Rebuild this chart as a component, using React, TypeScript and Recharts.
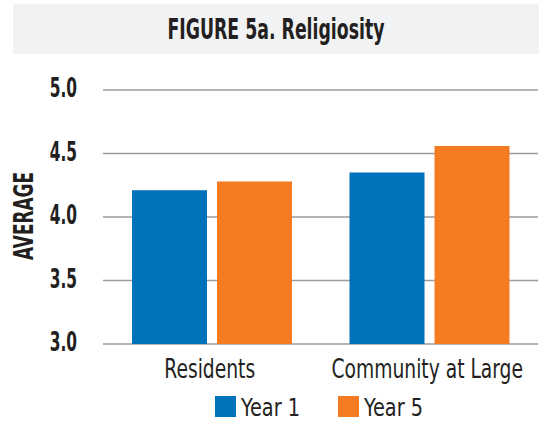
import React from "react";
import { BarChart, Bar, XAxis, YAxis, CartesianGrid, Legend } from "recharts";

const categories = ["Residents", "Community at Large"];
const year1 = [4.21, 4.35];
const year5 = [4.28, 4.56];
const seriesNames = ["Year 1", "Year 5"];
const yTicks = [3.0, 3.5, 4.0, 4.5, 5.0];
const title = "FIGURE 5a. Religiosity";
const yLabel = "AVERAGE";

const data = categories.map((c, i) => ({ name: c, y1: year1[i], y5: year5[i] }));

const BLUE = "#0071BB";
const ORANGE = "#F37B21";
const TEXT = "#231F20";
const FONT = "'Liberation Sans Narrow', 'Arial Narrow', 'DejaVu Sans Condensed', sans-serif";
const SQUEEZE = 0.8;

const YTick = (props: any) => {
  const { y, payload } = props;
  return (
    <text
      transform={`translate(77 ${y + 7}) scale(0.66 1)`}
      textAnchor="end"
      fontFamily={FONT}
      fontWeight="bold"
      fontSize={26}
      fill={TEXT}
    >
      {Number(payload.value).toFixed(1)}
    </text>
  );
};

const XTick = (props: any) => {
  const { x, y, payload } = props;
  return (
    <text
      transform={`translate(${x - 2} ${y + 34}) scale(${SQUEEZE} 1)`}
      textAnchor="middle"
      fontFamily={FONT}
      fontSize={26}
      fill={TEXT}
    >
      {payload.value}
    </text>
  );
};

const LegendContent = () => {
  const colors = [BLUE, ORANGE];
  const xs = [215, 338];
  return (
    <svg width={539} height={34} style={{ display: "block" }}>
      {seriesNames.map((n, i) => (
        <g key={n}>
          <rect x={xs[i]} y={8} width={21} height={21} fill={colors[i]} />
          <text
            transform={`translate(${xs[i] + 26} 28) scale(0.86 1)`}
            fontFamily={FONT}
            fontSize={25}
            fill={TEXT}
          >
            {n}
          </text>
        </g>
      ))}
    </svg>
  );
};

export default function App() {
  return (
    <div style={{ position: "absolute", left: 0, top: 0, width: 539, height: 422, background: "#fff" }}>
      <svg width={539} height={60} style={{ position: "absolute", left: 0, top: 0 }}>
        <rect x={13} y={4} width={526} height={50} fill="#F1F2F4" />
        <text x={276} y={39} textAnchor="middle" fontFamily={FONT} fontWeight="bold" fontSize={29} fill={TEXT} textLength={217} lengthAdjust="spacingAndGlyphs">
          {title}
        </text>
      </svg>
      <svg width={60} height={422} style={{ position: "absolute", left: 0, top: 0 }}>
        <text
          x={0}
          y={0}
          transform="translate(33,216) rotate(-90)"
          textAnchor="middle"
          fontFamily={FONT}
          fontWeight="bold"
          fontSize={26}
          fill={TEXT}
          textLength={88}
          lengthAdjust="spacingAndGlyphs"
        >
          {yLabel}
        </text>
      </svg>
      <div style={{ position: "absolute", left: 0, top: 0 }}>
        <BarChart
          width={539}
          height={422}
          data={data}
          margin={{ top: 90, right: 1, bottom: 0, left: 0 }}
          barSize={75}
          barGap={10}
        >
          <CartesianGrid vertical={false} stroke="#9A9A9A" strokeWidth={1.6} />
          <YAxis
            domain={[3, 5]}
            ticks={yTicks}
            width={103}
            axisLine={false}
            tickLine={false}
            tick={<YTick />}
            interval={0}
          />
          <XAxis dataKey="name" height={44} axisLine={false} tickLine={false} tickSize={0} tickMargin={0} tick={<XTick />} interval={0} />
          <Legend verticalAlign="bottom" content={<LegendContent />} wrapperStyle={{ position: "absolute", left: 0, top: 388, width: 539, height: 34 }} />
          <Bar dataKey="y1" name={seriesNames[0]} fill={BLUE} isAnimationActive={false} />
          <Bar dataKey="y5" name={seriesNames[1]} fill={ORANGE} isAnimationActive={false} />
        </BarChart>
      </div>
    </div>
  );
}
